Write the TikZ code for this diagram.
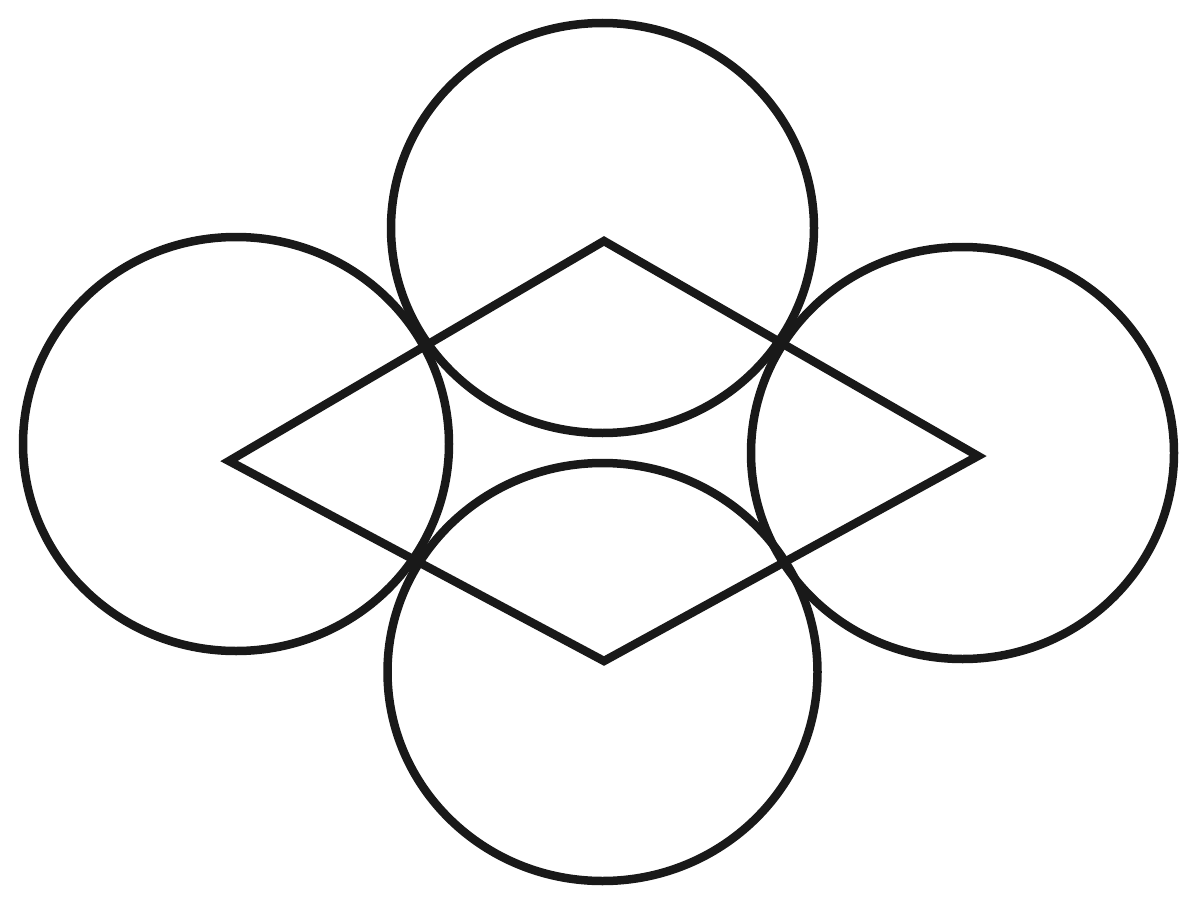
\documentclass[tikz,border=0pt]{standalone}
\begin{document}
\begin{tikzpicture}[x=0.02cm,y=-0.02cm,
  shape line/.style={draw=black!90, line width=0.17cm, line join=miter}]
\useasboundingbox[fill=white] (0,0) rectangle (1200,909);
\coordinate (ct) at (602.5,228);
\coordinate (cb) at (602.5,672);
\coordinate (cl) at (236,444);
\coordinate (cr) at (962.5,453);
\coordinate (vt) at (604,241);
\coordinate (vr) at (978,456);
\coordinate (vb) at (604,661);
\coordinate (vl) at (229,461);
\draw[shape line] (vt) -- (vr) -- (vb) -- (vl) -- cycle;
\draw[shape line] (ct) ellipse [x radius=211.5, y radius=205];
\draw[shape line] (cb) ellipse [x radius=215, y radius=209];
\draw[shape line] (cl) ellipse [x radius=213, y radius=207];
\draw[shape line] (cr) ellipse [x radius=211.5, y radius=206];
\end{tikzpicture}
\end{document}
